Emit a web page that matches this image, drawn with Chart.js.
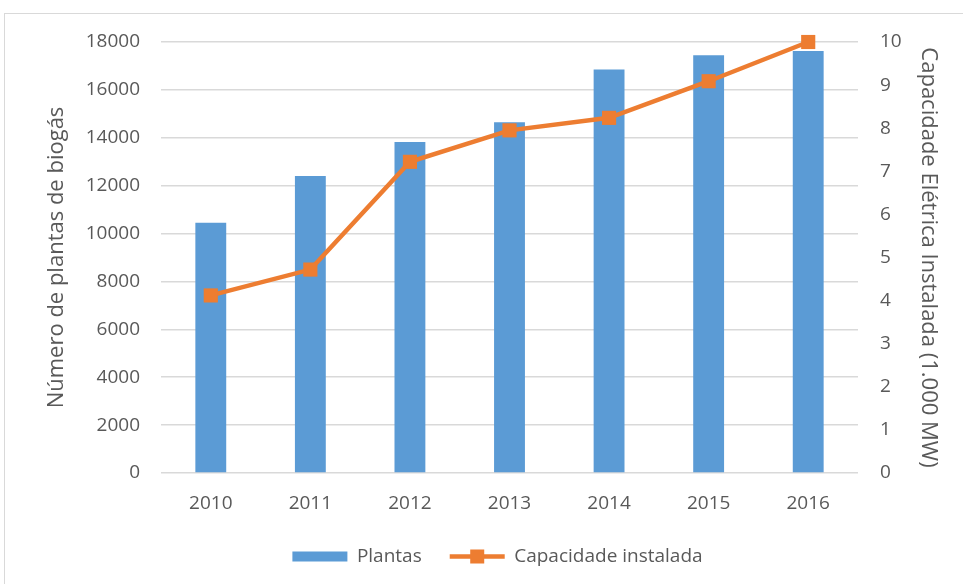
<!DOCTYPE html>
<html>
<head>
<meta charset="utf-8">
<script src="https://cdn.jsdelivr.net/npm/chart.js@4"></script>
<style>
  body { margin: 0; background: #fff; }
  #wrap { position: relative; width: 963px; height: 584px; overflow: hidden; }
  #frame { position: absolute; left: 4px; top: 13px; width: 980px; height: 600px; border: 1px solid #d9d9d9; }
  canvas { position: absolute; left: 0; top: 0; }
</style>
</head>
<body>
<div id="wrap">
  <div id="frame"></div>
  <canvas id="myChart" width="963" height="584"></canvas>
</div>
<script>
const years = ['2010', '2011', '2012', '2013', '2014', '2015', '2016'];
const plantas = [10450, 12400, 13820, 14650, 16850, 17450, 17620];
const capacidade = [4.12, 4.72, 7.22, 7.95, 8.24, 9.09, 10.0];

const grey = '#595959';
const font = { family: 'Open Sans', size: 19 };
const titleFont = { family: 'Open Sans', size: 22 };

// draws the line+square marker for the line dataset in the legend
const legendLine = {
    id: 'legendLine',
    afterDraw(chart) {
        const legend = chart.legend;
        const box = legend.legendHitBoxes[1];
        if (!box) return;
        const ctx = chart.ctx;
        const w = legend.options.labels.boxWidth;
        const y = box.top + box.height / 2;
        ctx.save();
        ctx.strokeStyle = '#ED7D31';
        ctx.lineWidth = 4.5;
        ctx.beginPath();
        ctx.moveTo(box.left, y);
        ctx.lineTo(box.left + w, y);
        ctx.stroke();
        ctx.fillStyle = '#ED7D31';
        ctx.fillRect(box.left + w / 2 - 7, y - 7, 14, 14);
        ctx.restore();
    }
};

const ctx = document.getElementById('myChart');

new Chart(ctx, {
    type: 'bar',
    data: {
        labels: years,
        datasets: [{
            type: 'line',
            label: 'Capacidade instalada',
            data: capacidade,
            yAxisID: 'y1',
            borderColor: '#ED7D31',
            backgroundColor: '#ED7D31',
            borderWidth: 4.5,
            tension: 0,
            clip: false,
            pointStyle: 'rect',
            pointRadius: 10,
            pointBorderWidth: 0,
            pointBackgroundColor: '#ED7D31',
            order: 0
        }, {
            label: 'Plantas',
            data: plantas,
            yAxisID: 'y',
            backgroundColor: '#5B9BD5',
            borderWidth: 0,
            categoryPercentage: 1,
            barPercentage: 0.31,
            order: 1
        }]
    },
    options: {
        responsive: false,
        animation: false,
        layout: { padding: { top: 42, bottom: 8, left: 32, right: 0 } },
        plugins: {
            tooltip: { enabled: false },
            legend: {
                position: 'bottom',
                reverse: true,
                labels: {
                    color: grey,
                    font: font,
                    boxWidth: 55,
                    boxHeight: 10,
                    padding: 28,
                    generateLabels(chart) {
                        const items = Chart.defaults.plugins.legend.labels.generateLabels(chart);
                        items.forEach((it) => {
                            if (it.text === 'Capacidade instalada') {
                                it.fillStyle = 'rgba(0,0,0,0)';
                                it.strokeStyle = 'rgba(0,0,0,0)';
                                it.lineWidth = 0;
                            }
                        });
                        return items;
                    }
                }
            }
        },
        scales: {
            x: {
                grid: { display: false, drawTicks: false },
                border: { display: false },
                ticks: { color: grey, font: font, padding: 19 },
                afterFit(scale) { scale.height = 46; }
            },
            y: {
                position: 'left',
                min: 0,
                max: 18000,
                ticks: {
                    stepSize: 2000, color: grey, font: font, padding: 21,
                    callback: (v) => String(v)
                },
                grid: { color: '#d9d9d9', lineWidth: 1.5, drawTicks: false },
                border: { display: false },
                title: {
                    display: true,
                    text: 'Número de plantas de biogás',
                    color: grey,
                    font: titleFont,
                    padding: { top: 12, bottom: 0 }
                },
                afterFit(scale) { scale.width = 129; }
            },
            y1: {
                position: 'right',
                min: 0,
                max: 10,
                ticks: { stepSize: 1, color: grey, font: font, padding: 22 },
                grid: { display: false, drawTicks: false },
                border: { display: false },
                title: {
                    display: true,
                    text: 'Capacidade Elétrica Instalada (1.000 MW)',
                    color: grey,
                    font: titleFont,
                    padding: { top: 22, bottom: 0 }
                },
                afterFit(scale) { scale.width = 105; }
            }
        }
    },
    plugins: [legendLine]
});
</script>
</body>
</html>
